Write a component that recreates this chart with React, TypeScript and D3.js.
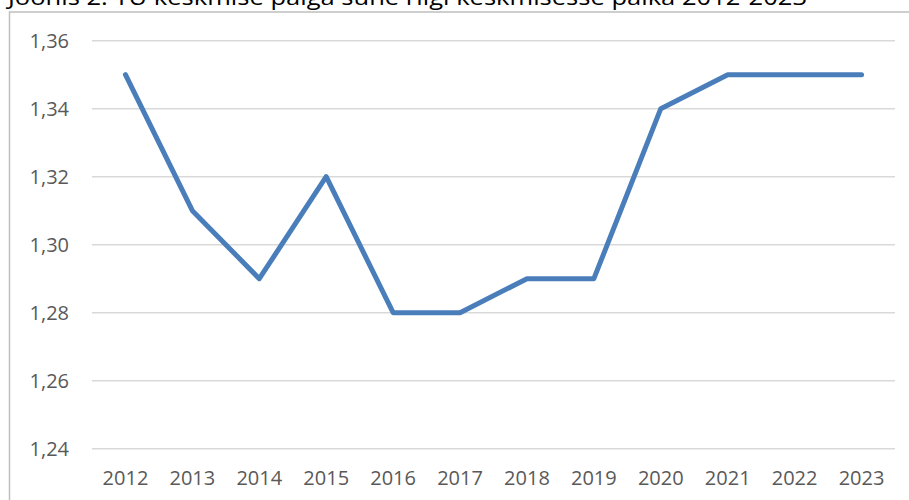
import React from "react";
import * as d3 from "d3";

const years = ["2012","2013","2014","2015","2016","2017","2018","2019","2020","2021","2022","2023"];
const ratio = [1.35,1.31,1.29,1.32,1.28,1.28,1.29,1.29,1.34,1.35,1.35,1.35];
const yTicks = [1.24,1.26,1.28,1.30,1.32,1.34,1.36];
const title = "Joonis 2. TÜ keskmise palga suhe riigi keskmisesse palka 2012-2023";

export default function App() {
  const W = 909, H = 500;
  const left = 92, right = 895, top = 40.7, bottom = 448.7;
  const x = d3.scaleBand<string>().domain(years).range([left, right]);
  const y = d3.scaleLinear().domain([1.24, 1.36]).range([bottom, top]);
  const line = d3.line<number>()
    .x((_, i) => (x(years[i]) as number) + x.bandwidth() / 2)
    .y(d => y(d));
  const fmt = (v: number) => v.toFixed(2).replace(".", ",");
  const font = "Open Sans, sans-serif";
  return (
    <svg width={W} height={H} style={{ position: "absolute", left: 0, top: 0, background: "#fff" }}>
      <rect x={0} y={0} width={W} height={H} fill="#fff" />
      <text x={8} y={4.5} fontFamily={font} fontSize={22} fill="#000" textLength={799} lengthAdjust="spacingAndGlyphs">{title}</text>
      <rect x={9.5} y={12} width={1000} height={600} fill="none" stroke="#bfbfbf" strokeWidth={1.5} />
      {yTicks.map(t => (
        <g key={t}>
          <line x1={left} x2={right} y1={y(t)} y2={y(t)} stroke="#d9d9d9" strokeWidth={1.5} />
          <text x={69} y={y(t)} dy="0.36em" textAnchor="end" fontFamily={font} fontSize={20} fill="#595959">{fmt(t)}</text>
        </g>
      ))}
      {years.map(yr => (
        <text key={yr} x={(x(yr) as number) + x.bandwidth() / 2} y={485} textAnchor="middle" fontFamily={font} fontSize={20} fill="#595959">{yr}</text>
      ))}
      <path d={line(ratio) || ""} fill="none" stroke="#4a7ebb" strokeWidth={5} strokeLinecap="round" strokeLinejoin="round" />
    </svg>
  );
}
